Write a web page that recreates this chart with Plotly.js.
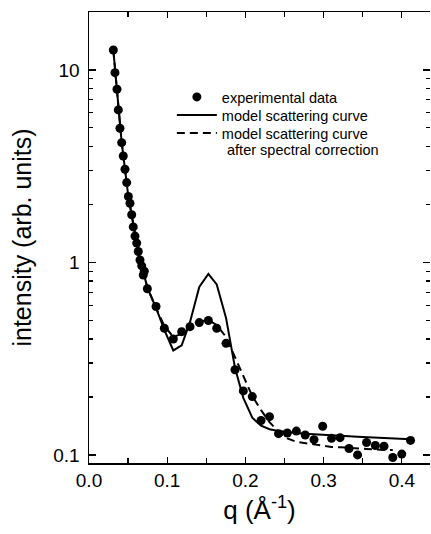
<!DOCTYPE html>
<html>
<head>
<meta charset="utf-8">
<script src="https://cdn.plot.ly/plotly-3.0.1.min.js"></script>
<style>html,body{margin:0;padding:0;background:#fff;}#chart{width:431px;height:534px;}</style>
</head>
<body>
<div id="chart"></div>
<script>
// experimental data
const qExp = [0.0311, 0.0332, 0.0358, 0.0375, 0.0396, 0.0418, 0.0438, 0.046, 0.0482, 0.0503, 0.0524, 0.0546, 0.0566, 0.0588, 0.061, 0.063, 0.0652, 0.0674, 0.0694, 0.0707, 0.0746, 0.0857, 0.0963, 0.1078, 0.1185, 0.1292, 0.141, 0.1526, 0.1633, 0.1752, 0.1867, 0.1973, 0.2088, 0.22, 0.2308, 0.2423, 0.2536, 0.2651, 0.2765, 0.2877, 0.2988, 0.3101, 0.321, 0.3325, 0.3434, 0.3549, 0.3661, 0.3772, 0.3884, 0.3999, 0.4111];
const iExp = [12.7, 9.68, 7.94, 6.20, 4.98, 4.19, 3.57, 3.05, 2.60, 2.20, 2.03, 1.77, 1.53, 1.37, 1.26, 1.14, 1.03, 0.96, 0.86, 0.90, 0.73, 0.59, 0.455, 0.40, 0.437, 0.464, 0.487, 0.499, 0.455, 0.38, 0.277, 0.215, 0.201, 0.151, 0.158, 0.129, 0.130, 0.133, 0.127, 0.120, 0.141, 0.122, 0.123, 0.108, 0.100, 0.116, 0.112, 0.111, 0.097, 0.101, 0.119];

// model scattering curve
const qModel = [0.0311, 0.0358, 0.0418, 0.046, 0.0503, 0.0546, 0.0588, 0.063, 0.0674, 0.0746, 0.0857, 0.0963, 0.1078, 0.1185, 0.1292, 0.141, 0.1526, 0.1633, 0.1752, 0.1867, 0.1973, 0.2088, 0.22, 0.2308, 0.2423, 0.2536, 0.2651, 0.2765, 0.2877, 0.2988, 0.3101, 0.321, 0.3325, 0.3434, 0.3549, 0.3661, 0.3772, 0.3884, 0.3999, 0.4111];
const iModel = [12.7, 7.9, 4.2, 3.05, 2.2, 1.76, 1.38, 1.14, 0.96, 0.74, 0.58, 0.446, 0.349, 0.371, 0.491, 0.746, 0.871, 0.769, 0.515, 0.283, 0.198, 0.156, 0.142, 0.136, 0.133, 0.131, 0.130, 0.129, 0.128, 0.127, 0.1262, 0.1255, 0.125, 0.1243, 0.1235, 0.123, 0.1222, 0.1215, 0.121, 0.1205];

// model after spectral correction
const qCorr = [0.0311, 0.0358, 0.0418, 0.046, 0.0503, 0.0546, 0.0588, 0.063, 0.0674, 0.0746, 0.0857, 0.0963, 0.1078, 0.1185, 0.1292, 0.141, 0.1526, 0.1633, 0.1752, 0.1867, 0.1973, 0.2088, 0.22, 0.2308, 0.2423, 0.2536, 0.2651, 0.2765, 0.2877, 0.2988, 0.3101, 0.321, 0.3325, 0.3434, 0.3549, 0.3661, 0.3772, 0.3884];
const iCorr = [12.7, 7.9, 4.2, 3.05, 2.2, 1.76, 1.38, 1.14, 0.96, 0.74, 0.58, 0.468, 0.410, 0.425, 0.462, 0.491, 0.503, 0.473, 0.410, 0.323, 0.254, 0.202, 0.171, 0.148, 0.132, 0.122, 0.117, 0.115, 0.113, 0.111, 0.110, 0.1097, 0.1087, 0.108, 0.1075, 0.107, 0.106, 0.106];

// labels
const seriesNames = ["experimental data", "model scattering curve", "model scattering curve"];
const legendExtra = " after spectral correction";
const xTitle = "q (Å<sup>-1</sup>)";
const yTitle = "intensity (arb. units)";
const yTickVals = [0.1, 1, 10];
const yTickText = ["0.1", "1", "10"];

const FONT = "Arial, 'Liberation Sans', Helvetica, sans-serif";
const LEGFONT = {size: 14.5, family: FONT, color: "#000"};

const traces = [
  {x: qExp, y: iExp, type: "scatter", mode: "markers", name: seriesNames[0], legend: "legend",
   marker: {color: "#000", size: 9}},
  {x: qModel, y: iModel, type: "scatter", mode: "lines", name: seriesNames[1], legend: "legend2",
   line: {color: "#000", width: 2}},
  {x: qCorr, y: iCorr, type: "scatter", mode: "lines", name: seriesNames[2], legend: "legend3",
   line: {color: "#000", width: 2, dash: "8px,5px"}},
  {x: qExp, y: iExp, type: "scatter", mode: "markers", yaxis: "y2", showlegend: false,
   hoverinfo: "skip", opacity: 0, marker: {size: 1}}
];

const yRange = [Math.log10(0.0908), Math.log10(20)];

function leg(yPaper) {
  return {x: 0.243, y: yPaper, xanchor: "left", yanchor: "middle",
          bgcolor: "rgba(0,0,0,0)", font: LEGFONT, itemwidth: 40};
}

const layout = {
  width: 431, height: 534,
  margin: {l: 89, r: 1, t: 12, b: 71},
  paper_bgcolor: "#fff", plot_bgcolor: "#fff",
  font: {family: FONT, color: "#000"},
  showlegend: true,
  legend: leg(0.8115),
  legend2: leg(0.7716),
  legend3: leg(0.7317),
  xaxis: {
    range: [0, 0.436], showgrid: false, zeroline: false,
    showline: true, linecolor: "#000", linewidth: 1.5, mirror: "ticks",
    ticks: "inside", ticklen: 6, tickwidth: 1.3, tickcolor: "#000",
    tickvals: [0, 0.1, 0.2, 0.3, 0.4], ticktext: ["0.0", "0.1", "0.2", "0.3", "0.4"],
    tickfont: {size: 19},
    minor: {tickvals: [0.05, 0.15, 0.25, 0.35], ticks: "inside", ticklen: 5, tickwidth: 1.3, tickcolor: "#000"},
    title: {text: xTitle, font: {size: 26}, standoff: 10}
  },
  yaxis: {
    type: "log", range: yRange, showgrid: false, zeroline: false,
    showline: true, linecolor: "#000", linewidth: 1.5, mirror: false,
    ticks: "inside", ticklen: 7, tickwidth: 1.3, tickcolor: "#000",
    tickvals: yTickVals, ticktext: yTickText, tickfont: {size: 19},
    ticklabelstandoff: 4,
    minor: {dtick: "D1", ticks: "inside", ticklen: 4, tickwidth: 1.2, tickcolor: "#000", showgrid: false},
    title: {text: yTitle, font: {size: 25}, standoff: 14}
  },
  yaxis2: {
    type: "log", range: yRange, overlaying: "y", side: "right", anchor: "x",
    showgrid: false, zeroline: false, showline: false, showticklabels: false,
    ticks: "inside", ticklen: 7, tickwidth: 1.3, tickcolor: "#000",
    tickvals: yTickVals,
    minor: {dtick: "D1", ticks: "inside", ticklen: 4, tickwidth: 1.2, tickcolor: "#000", showgrid: false}
  },
  annotations: [
    {text: legendExtra, xref: "paper", yref: "paper", x: 0.386, y: 0.694,
     xanchor: "left", yanchor: "middle", showarrow: false, font: LEGFONT}
  ]
};

Plotly.newPlot("chart", traces, layout, {displayModeBar: false, staticPlot: true});
</script>
</body>
</html>
